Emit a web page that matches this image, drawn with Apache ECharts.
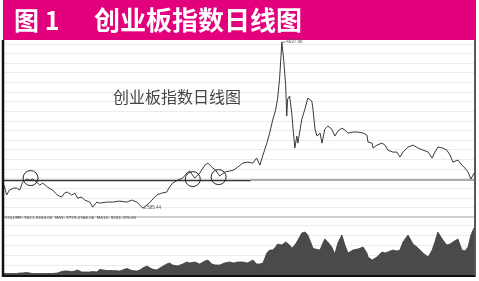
<!DOCTYPE html>
<html><head><meta charset="utf-8">
<script src="https://cdn.jsdelivr.net/npm/echarts@6/dist/echarts.min.js"></script>
<style>html,body{margin:0;padding:0;background:#fff}#c{width:479px;height:281px}</style>
</head><body><div id="c"></div>
<script>
// ---- data ----
const dates = [
 '2010-06-10','2010-06-27','2010-07-16','2010-08-12','2010-09-01','2010-09-21','2010-10-10','2010-11-06','2010-11-25','2010-12-15',
 '2011-01-10','2011-01-30','2011-02-19','2011-03-22','2011-04-24','2011-05-26','2011-06-22','2011-07-11','2011-07-31','2011-08-27',
 '2011-09-16','2011-10-05','2011-11-01','2011-11-20','2011-12-23','2012-01-12','2012-02-08','2012-02-27','2012-04-12','2012-05-21',
 '2012-07-06','2012-08-22','2012-09-24','2012-10-26','2012-11-16','2012-12-04','2013-01-01','2013-02-03','2013-03-05','2013-04-07',
 '2013-05-10','2013-05-29','2013-06-18','2013-07-21','2013-08-23','2013-09-19','2013-10-08','2013-11-10','2013-12-12','2014-01-15',
 '2014-02-04','2014-03-01','2014-03-26','2014-04-22','2014-05-24','2014-06-26','2014-07-22','2014-08-18','2014-09-20','2014-10-23',
 '2014-11-25','2014-12-20','2015-01-10','2015-01-30','2015-02-25','2015-03-15','2015-04-04','2015-04-23','2015-05-06','2015-05-19',
 '2015-06-03','2015-06-15','2015-06-28','2015-07-05','2015-07-11','2015-07-24','2015-08-07','2015-08-14','2015-08-27','2015-09-09',
 '2015-09-16','2015-10-12','2015-11-01','2015-11-20','2015-12-16','2015-12-23','2016-01-06','2016-01-19','2016-02-08','2016-02-21',
 '2016-03-10','2016-03-30','2016-04-25','2016-05-15','2016-06-04','2016-06-30','2016-07-20','2016-08-09','2016-09-11','2016-10-13',
 '2016-11-16','2016-12-11','2016-12-18','2017-01-14','2017-01-20','2017-02-15','2017-03-19','2017-04-08','2017-04-27','2017-05-30',
 '2017-06-25','2017-07-15','2017-08-04','2017-09-06','2017-10-09','2017-11-11','2017-12-13','2018-01-16','2018-02-11','2018-03-01',
 '2018-03-20','2018-04-22','2018-05-18','2018-06-08','2018-06-27','2018-07-30','2018-08-25','2018-09-14','2018-10-04','2018-10-23',
 '2018-11-12'
];
const prices = [
 1064,856,960,1001,1001,960,1126,1188,1167,1188,
 1126,1064,1105,1022,960,856,814,897,918,856,
 897,793,814,752,710,606,710,689,710,710,
 731,710,752,710,648,585.44,648,752,856,897,
 918,1022,1105,1167,1209,1313,1355,1209,1313,1479,
 1521,1438,1375,1251,1334,1355,1375,1438,1521,1542,
 1521,1625,1479,1687,1937,2145,2415,2623,2852,3268,
 4037.96,3664,3144,2499,2852,2915,2561,2291,1833,2083,
 1937,2436,2644,2873,2811,2665,2228,2083,2145,1937,
 2228,2291,2228,2083,2187,2249,2207,2145,2166,2166,
 2145,2103,1958,1937,1833,1895,1937,1895,1791,1750,
 1750,1646,1750,1854,1895,1833,1791,1750,1625,1750,
 1854,1833,1791,1687,1542,1584,1479,1417,1334,1188,
 1313
];
const volumes = [
 1.5,1.5,1.5,1.5,1.5,2,2,2.5,2,1.5,
 1.5,1.5,1.5,1.5,1.5,2,3.5,4,4,3.5,
 4,5,3,3,3,3.5,3,5.5,4.5,4.5,
 4,6.5,4.5,4,5,7,9,6,5,8,
 11,12,10,9,11,13,12,13,11,14,
 15,11,10,10,12,13,12,13,13,12,
 15,11,11,12,22,25,25,28,31,31,
 30,32,33,33,32,30,27,28,30,33,
 35,42,43,40,30,27,26,24,25,30,
 36,33,28,21,32,40,30,22,25,26,
 28,22,18,15,13,18,23,22,23,25,
 24,25,33,40,31,27,22,18,25,33,
 43,35,30,31,33,36,25,24,28,40,
 47
];
const refLevel = 1170;
const refSplitDate = '2014-11-12';
const circleMarks = [['2010-12-01',1209],['2013-10-28',1188],['2014-04-15',1230]];
const priceAxisMin = 400, priceAxisMax = 4060, priceAxisStep = 200;
const volAxisMin = 0, volAxisMax = 58, volAxisStep = 10;
const bannerNo = '图 1';
const bannerTitle = '创业板指数日线图';
const innerTitle = '创业板指数日线图';
const volumeText = 'VOLUME: 5811.5464.00  MA5: 5725.2368.00  MA10: 5204.376.00';

// ---- chart ----
const chart = echarts.init(document.getElementById('c'), null, {renderer:'canvas'});
const priceData = dates.map((d,i)=>[d, prices[i]]);
const volData = dates.map((d,i)=>[d, volumes[i]]);
const xMin = dates[0], xMax = dates[dates.length-1];
const cjk = '"Noto Sans CJK SC", "Noto Sans", sans-serif';

const option = {
  animation:false,
  backgroundColor:'#fff',
  title:[
    {text:bannerNo, left:14, top:8, padding:0, textStyle:{color:'#fff', fontSize:25, fontWeight:'bold', fontFamily:cjk}},
    {text:bannerTitle, left:94, top:7, padding:0, textStyle:{color:'#fff', fontSize:26, fontWeight:'bold', fontFamily:cjk}},
    {text:innerTitle, left:113, top:89, padding:0, textStyle:{color:'#444', fontSize:16, fontWeight:'normal', fontFamily:cjk}}
  ],
  graphic:[
    {type:'rect', shape:{x:3, y:0, width:473, height:40}, style:{fill:'#e2007c'}, z:0},
    {type:'line', shape:{x1:3, y1:40, x2:3, y2:277}, style:{stroke:'#111', lineWidth:2.5}, z:10},
    {type:'line', shape:{x1:3, y1:276, x2:475, y2:276}, style:{stroke:'#111', lineWidth:2}, z:10},
    {type:'line', shape:{x1:475, y1:40, x2:475, y2:277}, style:{stroke:'#222', lineWidth:1.5}, z:10},
    {type:'text', left:5, top:216, style:{text:volumeText, fontSize:4, fill:'#444', fontFamily:'"DejaVu Sans", sans-serif'}, z:10}
  ],
  grid:[
    {left:4, right:5, top:41, height:176},
    {left:4, right:5, top:217, height:58}
  ],
  xAxis:[
    {type:'time', gridIndex:0, min:xMin, max:xMax, axisLabel:{show:false}, axisTick:{show:false},
     axisLine:{show:true, lineStyle:{color:'#c4c4c4', width:1.5}}, splitLine:{show:false}},
    {type:'time', gridIndex:1, min:xMin, max:xMax, axisLabel:{show:false}, axisTick:{show:false},
     axisLine:{show:false}, splitLine:{show:false}}
  ],
  yAxis:[
    {type:'value', gridIndex:0, min:priceAxisMin, max:priceAxisMax, interval:priceAxisStep,
     axisLabel:{show:false}, axisTick:{show:false}, axisLine:{show:false},
     splitLine:{show:true, showMinLine:false, showMaxLine:false, lineStyle:{color:'#ececec', width:1}}},
    {type:'value', gridIndex:1, min:volAxisMin, max:volAxisMax, interval:volAxisStep,
     axisLabel:{show:false}, axisTick:{show:false}, axisLine:{show:false},
     splitLine:{show:true, showMinLine:false, showMaxLine:false, lineStyle:{color:'#ececec', width:1}}}
  ],
  series:[
    {type:'line', xAxisIndex:0, yAxisIndex:0, data:priceData, symbol:'none', smooth:false,
     lineStyle:{color:'#3a3a3a', width:1},
     markLine:{silent:true, symbol:['none','none'], label:{show:false},
       data:[
         [{coord:[xMin, refLevel], lineStyle:{color:'#333', width:1.3, type:'solid'}},{coord:[refSplitDate, refLevel]}],
         [{coord:[refSplitDate, refLevel], lineStyle:{color:'#ababab', width:2, type:'solid'}},{coord:[xMax, refLevel]}]
       ]},
     markPoint:{silent:true,
       data:[
         {type:'max', symbol:'rect', symbolSize:[3,0.8], symbolOffset:[2,0], itemStyle:{color:'#555'},
          label:{show:true, position:'right', distance:1, fontSize:4.5, color:'#555', formatter:'{c}'}},
         {type:'min', symbol:'rect', symbolSize:[3,0.8], symbolOffset:[2,0], itemStyle:{color:'#555'},
          label:{show:true, position:'right', distance:1, fontSize:4.5, color:'#555', formatter:'{c}'}}
       ].concat(circleMarks.map(c=>({coord:c, symbol:'circle', symbolSize:15,
          itemStyle:{color:'rgba(0,0,0,0)', borderColor:'#222', borderWidth:1}, label:{show:false}})))
     }},
    {type:'line', xAxisIndex:1, yAxisIndex:1, data:volData, symbol:'none', smooth:false,
     lineStyle:{color:'#3d3d3d', width:0.8}, areaStyle:{color:'#4a4a4a', opacity:1}}
  ]
};
chart.setOption(option);
</script></body></html>
